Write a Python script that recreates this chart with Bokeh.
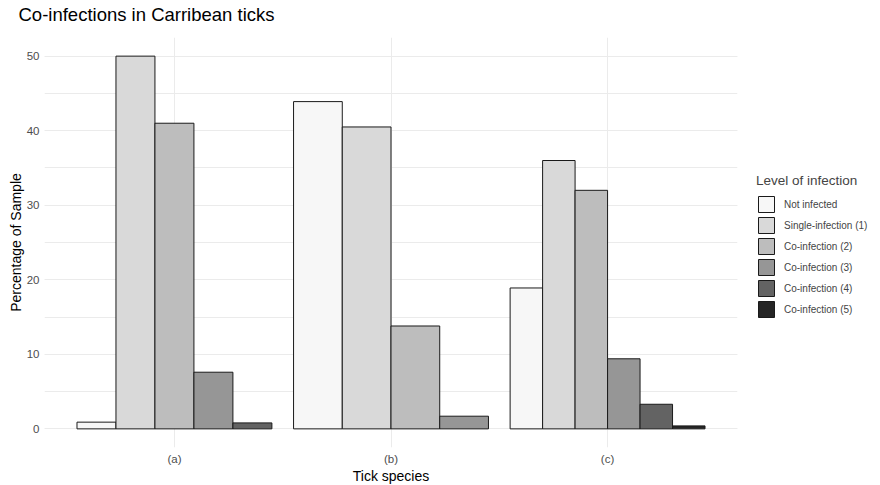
from bokeh.plotting import figure
from bokeh.models import (Range1d, FixedTicker, SingleIntervalTicker, ColumnDataSource,
                          Legend, LegendItem, Title)
from bokeh.embed import file_html
from bokeh.resources import INLINE

# ---- data ----
species = ["(a)", "(b)", "(c)"]
levels = ["Not infected", "Single-infection (1)", "Co-infection (2)",
          "Co-infection (3)", "Co-infection (4)", "Co-infection (5)"]
colors = ["#F7F7F7", "#D9D9D9", "#BDBDBD", "#969696", "#636363", "#252525"]
# percentage per level, per species (None = level absent for that species)
not_infected = [0.9, 43.9, 18.9]
single_1 = [50.0, 40.5, 36.0]
co_2 = [41.0, 13.8, 32.0]
co_3 = [7.6, 1.7, 9.4]
co_4 = [0.8, None, 3.3]
co_5 = [None, None, 0.4]
series = [not_infected, single_1, co_2, co_3, co_4, co_5]

FONT = "Liberation Sans"

p = figure(frame_width=693, frame_height=410,
           x_range=Range1d(0.4, 3.6), y_range=Range1d(-2.5, 52.5),
           output_backend="svg", toolbar_location=None,
           title="Co-infections in Carribean ticks")
p.min_border_left = 0
p.min_border_right = 0
p.min_border_top = 0
p.min_border_bottom = 0
p.outline_line_color = None
p.background_fill_color = "white"

# dodge positions computed per species from the number of present levels
n_per = [sum(1 for s in series if s[g] is not None) for g in range(len(species))]
idx_counter = [0] * len(species)
items = []
for li, (lvl, vals, col) in enumerate(zip(levels, series, colors)):
    xs, tops, ws = [], [], []
    for g, v in enumerate(vals):
        if v is None:
            continue
        n = n_per[g]
        w = 0.9 / n
        i = idx_counter[g]
        idx_counter[g] += 1
        xs.append(g + 1 - 0.45 + w * (i + 0.5))
        tops.append(v)
        ws.append(w)
    src = ColumnDataSource(dict(x=xs, top=tops, w=ws))
    r = p.vbar(x="x", top="top", width="w", bottom=0, source=src,
               fill_color=col, line_color="#1a1a1a", line_width=1)
    items.append(LegendItem(label=lvl, renderers=[r]))

# axes
p.xaxis.ticker = FixedTicker(ticks=[1, 2, 3])
p.xaxis.major_label_overrides = {1: species[0], 2: species[1], 3: species[2]}
p.yaxis.ticker = SingleIntervalTicker(interval=10, num_minor_ticks=2)
for ax in (p.xaxis[0], p.yaxis[0]):
    ax.axis_line_color = None
    ax.major_tick_line_color = None
    ax.minor_tick_line_color = None
    ax.major_tick_out = 0
    ax.major_tick_in = 0
    ax.minor_tick_out = 0
    ax.major_label_text_font = FONT
    ax.major_label_text_font_size = "11.5px"
    ax.major_label_text_color = "#4D4D4D"
    ax.axis_label_text_font = FONT
    ax.axis_label_text_font_size = "14px"
    ax.axis_label_text_font_style = "normal"
    ax.axis_label_text_color = "#000000"
p.xaxis.axis_label = "Tick species"
p.yaxis.axis_label = "Percentage of Sample"
p.xaxis.major_label_standoff = 5
p.xaxis.axis_label_standoff = 0
p.yaxis.major_label_standoff = 5
p.yaxis.axis_label_standoff = 0

# grid
p.xgrid.ticker = FixedTicker(ticks=[1, 2, 3])
p.xgrid.grid_line_color = "#EBEBEB"
p.ygrid.grid_line_color = "#EBEBEB"
p.ygrid.minor_grid_line_color = "#EBEBEB"

# title
p.title.text_font = FONT
p.title.text_font_size = "18.5px"
p.title.text_font_style = "normal"
p.title.text_color = "#000000"
p.title.align = "left"
p.title.offset = -26
p.title.standoff = 3
# thin spacers: above the title and left of the y axis label
p.add_layout(Title(text=" ", text_font_size="8px", standoff=0), "above")
p.add_layout(Title(text=" ", text_font_size="2px", standoff=0), "left")

# legend
legend = Legend(items=items, location=(19, 128))
legend.title = "Level of infection"
legend.title_text_font = FONT
legend.title_text_font_size = "13.5px"
legend.title_text_font_style = "normal"
legend.title_standoff = 6
legend.label_text_font = FONT
legend.label_text_font_size = "10px"
legend.glyph_width = 20
legend.glyph_height = 20
legend.label_height = 20
legend.spacing = 1
legend.label_standoff = 8
legend.padding = 0
legend.margin = 0
legend.border_line_color = None
legend.background_fill_alpha = 0
p.add_layout(legend, "right")

open("out.html", "w").write(file_html(p, INLINE))
